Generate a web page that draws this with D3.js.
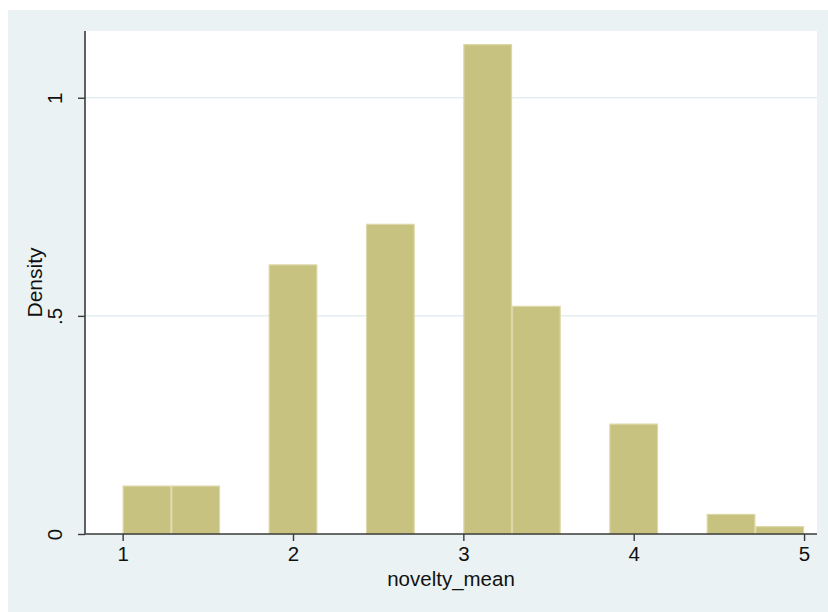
<!DOCTYPE html>
<html>
<head>
<meta charset="utf-8">
<script src="https://cdn.jsdelivr.net/npm/d3@7"></script>
<style>
  html, body { margin: 0; padding: 0; background: #ffffff; }
  text { font-family: "Liberation Sans", Arial, sans-serif; fill: #111; }
</style>
</head>
<body>
<svg id="chart" width="828" height="612"></svg>
<script>
// Histogram of novelty_mean: 14 bins of width 2/7 between 1 and 5
const binStart = 1;
const binWidth = 2 / 7;
const densities = [0.111, 0.111, 0, 0.618, 0, 0.711, 0, 1.123, 0.523, 0, 0.253, 0, 0.046, 0.018];
const xTicks = [1, 2, 3, 4, 5];
const yTicks = [0, 0.5, 1];
const yTickLabels = ["0", ".5", "1"];
const xTitle = "novelty_mean";
const yTitle = "Density";

const svg = d3.select("#chart");

// Graph region (light blue-grey) and plot region (white)
const plot = { left: 85, right: 817, top: 31, bottom: 534 };
svg.append("rect").attr("x", 8).attr("y", 10).attr("width", 820).attr("height", 602).attr("fill", "#eaf2f3");
svg.append("rect").attr("x", plot.left).attr("y", plot.top)
  .attr("width", plot.right - plot.left).attr("height", plot.bottom - plot.top).attr("fill", "#ffffff");

const x = d3.scaleLinear().domain([0.779, 5.076]).range([plot.left, plot.right]);
const y = d3.scaleLinear().domain([0, 1.153]).range([plot.bottom, plot.top]);

// Horizontal grid lines
svg.append("g").selectAll("line").data(yTicks.filter(d => d > 0)).join("line")
  .attr("x1", plot.left).attr("x2", plot.right)
  .attr("y1", d => y(d)).attr("y2", d => y(d))
  .attr("stroke", "#e3eef0").attr("stroke-width", 1.5);

// Bars
const bins = densities.map((v, i) => ({ x0: binStart + i * binWidth, x1: binStart + (i + 1) * binWidth, v }));
svg.append("g").selectAll("rect").data(bins.filter(b => b.v > 0)).join("rect")
  .attr("x", d => x(d.x0) + 0.5)
  .attr("width", d => x(d.x1) - x(d.x0) - 1)
  .attr("y", d => y(d.v) + 0.5)
  .attr("height", d => y(0) - y(d.v) - 0.5)
  .attr("fill", "#c8c280")
  .attr("stroke", "#ddd8a8")
  .attr("stroke-width", 1.2);

// Axes
const xAxis = d3.axisBottom(x).tickValues(xTicks).tickFormat(d3.format("d")).tickSize(7).tickPadding(5);
const gx = svg.append("g").attr("transform", `translate(0,${plot.bottom})`).call(xAxis);
gx.select(".domain").attr("d", `M${plot.left},0H${plot.right}`);

const yAxis = d3.axisLeft(y).tickValues(yTicks).tickFormat((d, i) => yTickLabels[i]).tickSize(7).tickPadding(0);
const gy = svg.append("g").attr("transform", `translate(${plot.left},0)`).call(yAxis);
gy.select(".domain").attr("d", `M0,${plot.top}V${plot.bottom}`);
gy.selectAll(".tick text")
  .attr("x", 0).attr("dy", 0)
  .attr("text-anchor", "middle")
  .attr("transform", "translate(-23,0) rotate(-90)");

[gx, gy].forEach(g => {
  g.select(".domain").attr("stroke", "#3a3a3a").attr("stroke-width", 1.6);
  g.selectAll(".tick line").attr("stroke", "#3a3a3a").attr("stroke-width", 1.4);
  g.selectAll(".tick text").attr("font-size", 20.5).attr("font-family", "'Liberation Sans', Arial, sans-serif").attr("fill", "#111");
});

// Axis titles, centred on the plot region
svg.append("text").attr("x", (plot.left + plot.right) / 2).attr("y", 586).attr("text-anchor", "middle")
  .attr("font-size", 20.5).text(xTitle);
svg.append("text").attr("transform", `translate(42,${(plot.top + plot.bottom) / 2}) rotate(-90)`)
  .attr("text-anchor", "middle").attr("font-size", 21).text(yTitle);
</script>
</body>
</html>
